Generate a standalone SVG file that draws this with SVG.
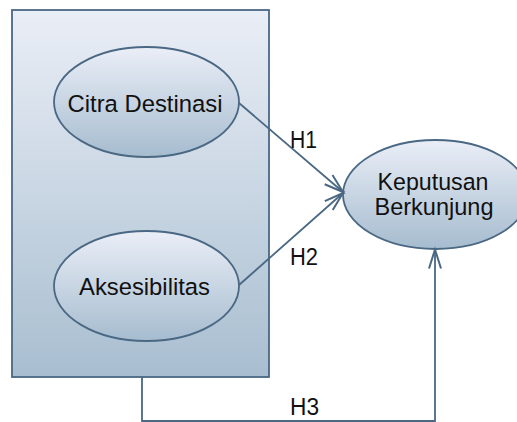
<svg xmlns="http://www.w3.org/2000/svg" width="517" height="422" viewBox="0 0 517 422">
<defs>
<linearGradient id="gRect" x1="0" y1="0" x2="0" y2="1">
<stop offset="0" stop-color="#eaeef6"/>
<stop offset="1" stop-color="#a8bed0"/>
</linearGradient>
<linearGradient id="gEll" x1="0" y1="0" x2="0" y2="1">
<stop offset="0" stop-color="#eaeef7"/>
<stop offset="1" stop-color="#a6bccf"/>
</linearGradient>
<marker id="arr" markerUnits="userSpaceOnUse" markerWidth="30" markerHeight="20" viewBox="-22 -10 24 20" refX="0" refY="0" orient="auto">
<path d="M-19,-6 L0,0 L-19,6" fill="none" stroke="#4a6883" stroke-width="2"/>
</marker>
</defs>
<style>
.shape{stroke:#4a6883;stroke-width:1.8}
.lbl{font-family:"Liberation Sans",Arial,sans-serif;font-size:24.5px;fill:#111;text-anchor:middle}
.h{font-family:"Liberation Sans",Arial,sans-serif;font-size:23px;fill:#111}
.con{fill:none;stroke:#4a6883;stroke-width:1.8}
</style>
<rect width="517" height="422" fill="#ffffff"/>
<g id="group-box">
<rect class="shape" x="12" y="10" width="257" height="367" fill="url(#gRect)"/>
</g>
<g id="citra-destinasi">
<ellipse class="shape" cx="146.5" cy="102" rx="92.5" ry="55" fill="url(#gEll)"/>
<text class="lbl" x="145" y="112" textLength="155" lengthAdjust="spacingAndGlyphs">Citra Destinasi</text>
</g>
<g id="aksesibilitas">
<ellipse class="shape" cx="146.5" cy="286" rx="92.5" ry="55" fill="url(#gEll)"/>
<text class="lbl" x="144.5" y="295" textLength="131" lengthAdjust="spacingAndGlyphs">Aksesibilitas</text>
</g>
<g id="keputusan-berkunjung">
<ellipse class="shape" cx="435.5" cy="194.5" rx="92.5" ry="54.5" fill="url(#gEll)"/>
<text class="lbl" x="433" y="190" textLength="111" lengthAdjust="spacingAndGlyphs">Keputusan</text>
<text class="lbl" x="434" y="215" textLength="119" lengthAdjust="spacingAndGlyphs">Berkunjung</text>
</g>
<g id="connectors">
<line class="con" x1="239" y1="103" x2="343" y2="192" marker-end="url(#arr)"/>
<line class="con" x1="239" y1="285" x2="343" y2="193" marker-end="url(#arr)"/>
<path class="con" d="M142,377 V421 H435 V249.5" marker-end="url(#arr)"/>
<text class="h" x="290" y="148" textLength="27" lengthAdjust="spacingAndGlyphs">H1</text>
<text class="h" x="290" y="265" textLength="28" lengthAdjust="spacingAndGlyphs">H2</text>
<text class="h" x="290" y="415" textLength="29" lengthAdjust="spacingAndGlyphs">H3</text>
</g>
</svg>
